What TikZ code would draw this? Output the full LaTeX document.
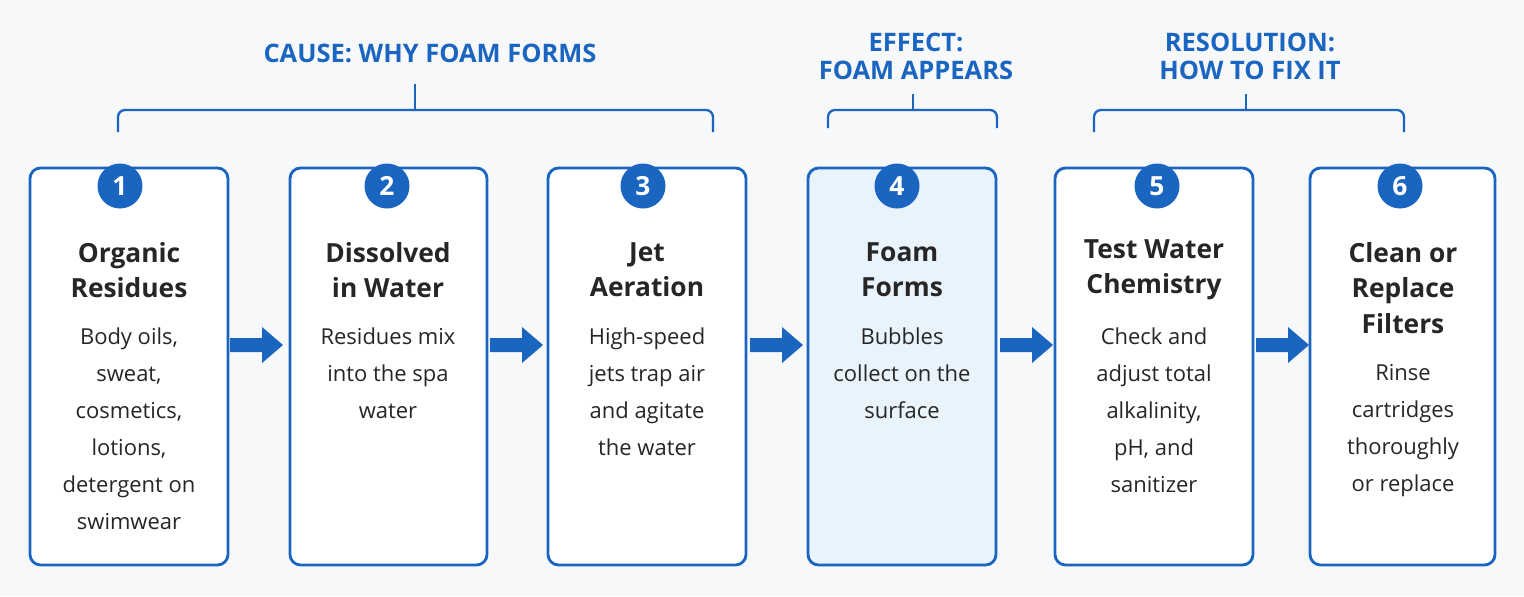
\documentclass[tikz,border=0pt]{standalone}
\usepackage{fontspec}
\setmainfont{Open Sans}
\definecolor{bl}{HTML}{1A65BF}
\definecolor{bg}{HTML}{F7F8FA}
\definecolor{lb}{HTML}{E9F3FC}
\begin{document}
\begin{tikzpicture}[x=0.02cm,y=-0.02cm,
 box/.style={draw=bl,line width=1.6pt,rounded corners=6pt,fill=white},
 num/.style={circle,fill=bl,minimum size=0.9cm,inner sep=0,text=white,font=\fontsize{15}{15}\selectfont\bfseries},
 ttl/.style={align=center,font=\fontsize{15}{20}\selectfont\bfseries,text=black!85},
 body/.style={align=center,font=\fontsize{12.5}{21}\selectfont,text=black!85},
 hd/.style={align=center,text=bl,font=\fontsize{14.5}{16}\selectfont\bfseries},
 br/.style={draw=bl,line width=1.3pt,rounded corners=4pt}]
\fill[bg] (0,0) rectangle (1524,596);
\useasboundingbox (0,0) rectangle (1524,596);
\draw[box] (30,168) rectangle (228,565);
\draw[box] (290,168) rectangle (487,565);
\draw[box] (548,168) rectangle (746,565);
\draw[box,fill=lb] (808,168) rectangle (996,565);
\draw[box] (1055,168) rectangle (1253,565);
\draw[box] (1310,168) rectangle (1495,565);
\foreach \i/\x in {1/120,2/387,3/643,4/897,5/1157,6/1400}{\node[num] (n\i) at (\x,186) {\i};}
\node[ttl] (t1) at (129,270) {Organic\\Residues};
\node[ttl] (t2) at (388,270) {Dissolved\\in Water};
\node[ttl] (t3) at (647,270) {Jet\\Aeration};
\node[ttl] (t4) at (902,270) {Foam\\Forms};
\node[ttl] (t5) at (1154,270) {Test Water\\Chemistry};
\node[ttl] (t6) at (1403,288) {Clean or\\Replace\\Filters};
\node[body,anchor=north] (d1) at (129,322) {Body oils,\\sweat,\\cosmetics,\\lotions,\\detergent on\\swimwear};
\node[body,anchor=north] (d2) at (388,322) {Residues mix\\into the spa\\water};
\node[body,anchor=north] (d3) at (647,322) {High-speed\\jets trap air\\and agitate\\the water};
\node[body,anchor=north] (d4) at (902,322) {Bubbles\\collect on the\\surface};
\node[body,anchor=north] (d5) at (1154,322) {Check and\\adjust total\\alkalinity,\\pH, and\\sanitizer};
\node[body,anchor=north] (d6) at (1403,358) {Rinse\\cartridges\\thoroughly\\or replace};
\foreach \x in {230,490,750,1000,1256}{
 \fill[bl] (\x,338) -- (\x+32,338) -- (\x+32,327) -- (\x+53,345) -- (\x+32,363) -- (\x+32,352) -- (\x,352) -- cycle;}
\draw[br] (118,132) -- (118,110) -- (713,110) -- (713,132); \draw[br] (415,110) -- (415,84);
\draw[br] (828,128) -- (828,110) -- (997,110) -- (997,128); \draw[br] (913,110) -- (913,94);
\draw[br] (1094,132) -- (1094,110) -- (1404,110) -- (1404,132); \draw[br] (1246,110) -- (1246,94);
\node[hd] (h1) at (430,53) {CAUSE: WHY FOAM FORMS};
\node[hd] (h2) at (916,56) {EFFECT:\\FOAM APPEARS};
\node[hd] (h3) at (1250,56) {RESOLUTION:\\HOW TO FIX IT};
\end{tikzpicture}
\end{document}
